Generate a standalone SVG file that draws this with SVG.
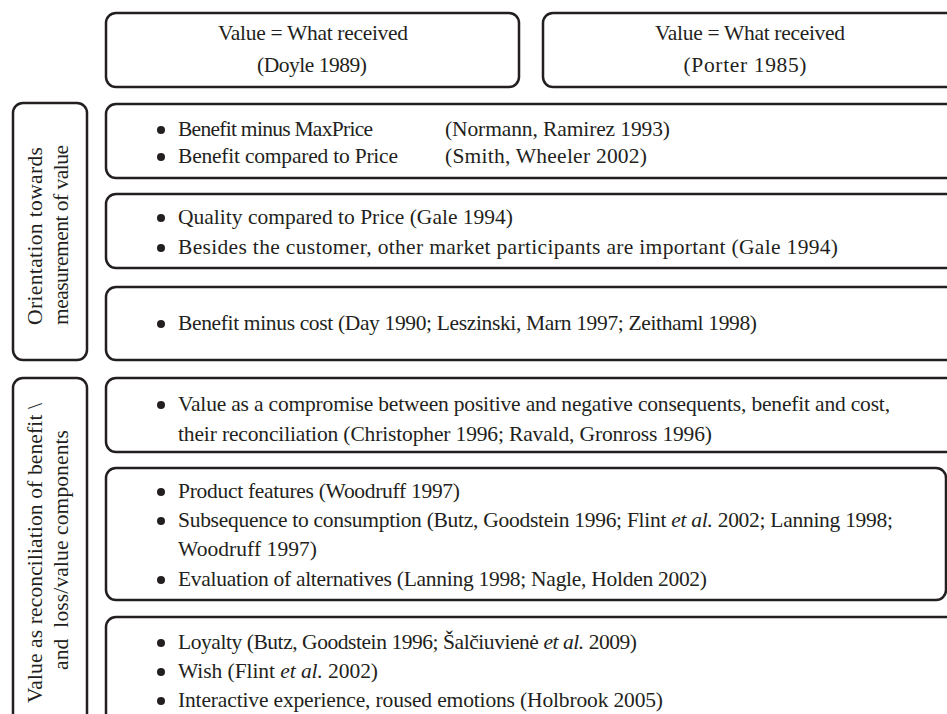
<svg xmlns="http://www.w3.org/2000/svg" width="947" height="714" viewBox="0 0 947 714">
<style>
.box{fill:#fff;stroke:#231f20;stroke-width:2.5}
.t{font-family:"Liberation Serif","Times New Roman",serif;font-size:21.5px;fill:#231f20}
.c{text-anchor:middle}
.b{fill:#231f20}
</style>
<rect width="947" height="714" fill="#fff"/>
<g id="top-doyle">
<rect class="box" x="106" y="13" width="413" height="74" rx="10"/>
<text class="t c" x="313" y="40" textLength="190" lengthAdjust="spacing">Value = What received</text>
<text class="t c" x="312" y="72" textLength="110" lengthAdjust="spacing">(Doyle 1989)</text>
</g>
<g id="top-porter">
<rect class="box" x="543" y="13" width="420" height="74" rx="10"/>
<text class="t c" x="750" y="40" textLength="190" lengthAdjust="spacing">Value = What received</text>
<text class="t c" x="745" y="72" textLength="123" lengthAdjust="spacing">(Porter 1985)</text>
</g>
<g id="left-orientation">
<rect class="box" x="13" y="103" width="74" height="257" rx="10"/>
<text class="t c" transform="translate(42,236) rotate(-90)" textLength="178" lengthAdjust="spacing">Orientation towards</text>
<text class="t c" transform="translate(68,235) rotate(-90)" textLength="180" lengthAdjust="spacing">measurement of value</text>
</g>
<g id="box-a">
<rect class="box" x="106" y="104" width="850" height="74" rx="10"/>
<circle class="b" cx="161" cy="130" r="4"/>
<text class="t" x="178" y="136" textLength="195" lengthAdjust="spacing">Benefit minus MaxPrice</text>
<text class="t" x="445" y="136" textLength="225" lengthAdjust="spacing">(Normann, Ramirez 1993)</text>
<circle class="b" cx="161" cy="157" r="4"/>
<text class="t" x="178" y="163" textLength="220" lengthAdjust="spacing">Benefit compared to Price</text>
<text class="t" x="445" y="163" textLength="202" lengthAdjust="spacing">(Smith, Wheeler 2002)</text>
</g>
<g id="box-b">
<rect class="box" x="106" y="194" width="850" height="74" rx="10"/>
<circle class="b" cx="161" cy="218" r="4"/>
<text class="t" x="178" y="224" textLength="335" lengthAdjust="spacing">Quality compared to Price (Gale 1994)</text>
<circle class="b" cx="161" cy="248" r="4"/>
<text class="t" x="178" y="254" textLength="660" lengthAdjust="spacing">Besides the customer, other market participants are important (Gale 1994)</text>
</g>
<g id="box-c">
<rect class="box" x="106" y="287" width="850" height="73" rx="10"/>
<circle class="b" cx="161" cy="324" r="4"/>
<text class="t" x="178" y="330" textLength="579" lengthAdjust="spacing">Benefit minus cost (Day 1990; Leszinski, Marn 1997; Zeithaml 1998)</text>
</g>
<g id="left-reconciliation">
<rect class="box" x="13" y="378" width="74" height="360" rx="10"/>
<text class="t c" transform="translate(42,553) rotate(-90)" textLength="300" lengthAdjust="spacing">Value as reconciliation of benefit \</text>
<text class="t c" transform="translate(68,550) rotate(-90)" textLength="240" lengthAdjust="spacing" xml:space="preserve">and  loss/value components</text>
</g>
<g id="box-d">
<rect class="box" x="106" y="378" width="850" height="74" rx="10"/>
<circle class="b" cx="161" cy="405" r="4"/>
<text class="t" x="178" y="411" textLength="712" lengthAdjust="spacing">Value as a compromise between positive and negative consequents, benefit and cost,</text>
<text class="t" x="178" y="441" textLength="534" lengthAdjust="spacing">their reconciliation (Christopher 1996; Ravald, Gronross 1996)</text>
</g>
<g id="box-e">
<rect class="box" x="106" y="468" width="840" height="132" rx="10"/>
<circle class="b" cx="161" cy="492" r="4"/>
<text class="t" x="178" y="498" textLength="282" lengthAdjust="spacing">Product features (Woodruff 1997)</text>
<circle class="b" cx="161" cy="521" r="4"/>
<text class="t" x="178" y="527" textLength="715" lengthAdjust="spacing">Subsequence to consumption (Butz, Goodstein 1996; Flint <tspan font-style="italic">et al.</tspan> 2002; Lanning 1998;</text>
<text class="t" x="178" y="556" textLength="139" lengthAdjust="spacing">Woodruff 1997)</text>
<circle class="b" cx="161" cy="580" r="4"/>
<text class="t" x="178" y="586" textLength="529" lengthAdjust="spacing">Evaluation of alternatives (Lanning 1998; Nagle, Holden 2002)</text>
</g>
<g id="box-f">
<rect class="box" x="106" y="617" width="850" height="120" rx="10"/>
<circle class="b" cx="161" cy="643" r="4"/>
<text class="t" x="178" y="649" textLength="459" lengthAdjust="spacing">Loyalty (Butz, Goodstein 1996; Šalčiuvienė <tspan font-style="italic">et al.</tspan> 2009)</text>
<circle class="b" cx="161" cy="672" r="4"/>
<text class="t" x="178" y="678" textLength="200" lengthAdjust="spacing">Wish (Flint <tspan font-style="italic">et al.</tspan> 2002)</text>
<circle class="b" cx="161" cy="701" r="4"/>
<text class="t" x="178" y="707" textLength="485" lengthAdjust="spacing">Interactive experience, roused emotions (Holbrook 2005)</text>
</g>
<g id="connectors"></g>
</svg>
